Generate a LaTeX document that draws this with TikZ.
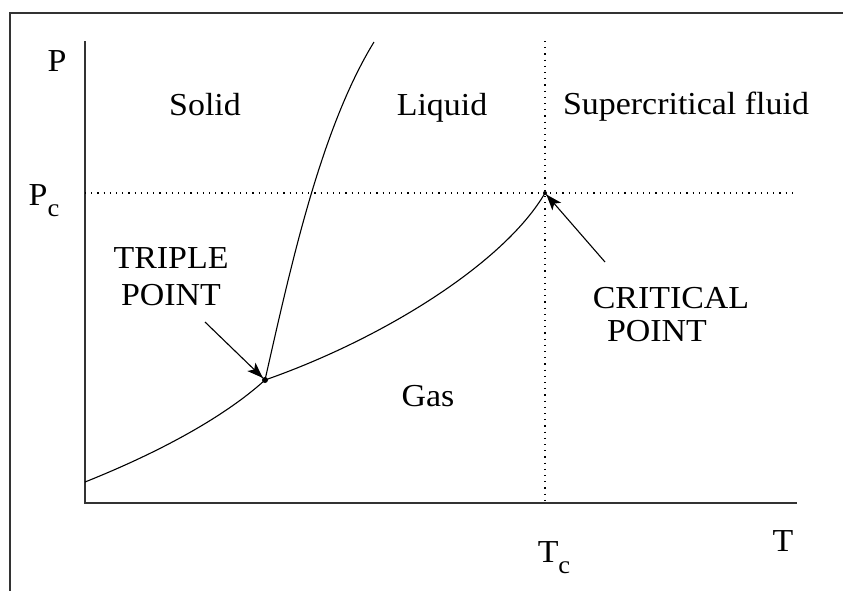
\documentclass[tikz,border=0pt]{standalone}
\usepackage{fontspec}
\setmainfont{Liberation Serif}[FakeStretch=1.06]
\usetikzlibrary{arrows.meta,calc}
\begin{document}
\begin{tikzpicture}[x=1pt,y=-1pt,
  lbl/.style={font=\fontsize{32}{37}\selectfont, inner sep=0pt, anchor=base},
  curve/.style={line width=1.1pt},
  guide/.style={line width=1.2pt, dash pattern=on 1.2pt off 5pt},
  axis/.style={line width=1.4pt, draw=black!80},
  pointer/.style={line width=1.1pt},
  ptdot/.style={circle, fill=black, inner sep=0pt, minimum size=6pt}]
\useasboundingbox (0,0) rectangle (843,590);
\fill[white] (0,0) rectangle (843,590);
% frame
\draw[line width=1.6pt, draw=black!80] (10,600) -- (10,13) -- (850,13);
% axes
\coordinate (origin) at (85,503);
\coordinate (ytop) at (85,41);
\coordinate (xend) at (797,503);
\draw[axis] (ytop) -- (origin) -- (xend);
% key points
\node[ptdot] (tp) at (265,380) {};
\node[ptdot, minimum size=4pt] (cp) at (545,193) {};
\coordinate (pcl) at (85,193);
\coordinate (pcr) at (797,193);
\coordinate (tct) at (545,41);
\coordinate (tcb) at (545,503);
\coordinate (sg0) at (85,482);
\coordinate (sltop) at (374,42);
% guides
\draw[guide] (pcl) -- (pcr);
\draw[guide] (tct) -- (tcb);
% phase boundaries
\draw[curve] (sg0) .. controls (170,448) and (230,412) .. (tp.center);
\draw[curve] (tp.center) .. controls (385,338) and (505,262) .. (cp.center);
\draw[curve] (tp.center) .. controls (290,270) and (320,130) .. (sltop);
% labels
\node[lbl] (P) at (57,71) {P};
\node[lbl] (Pc) at (44,205) {P\raisebox{-0.35em}{\fontsize{25}{25}\selectfont c}};
\node[lbl] (T) at (783,551) {T};
\node[lbl] (Tc) at (554,562) {T\raisebox{-0.35em}{\fontsize{25}{25}\selectfont c}};
\node[lbl] (solid) at (205,115) {Solid};
\node[lbl] (liquid) at (442,115) {Liquid};
\node[lbl] (scf) at (686,114) {Supercritical fluid};
\node[lbl] (gas) at (428,406) {Gas};
\node[lbl] (tpl1) at (171,268) {TRIPLE};
\node[lbl] (tpl2) at (171,305) {POINT};
\node[lbl] (cpl1) at (671,308) {CRITICAL};
\node[lbl] (cpl2) at (657,341) {POINT};
% pointers
\coordinate (tpa) at (205,322);
\coordinate (cpa) at (605,262);
\coordinate (tph) at ($(tp.center)!3pt!(tpa)$);
\coordinate (cph) at ($(cp.center)!2pt!(cpa)$);
\draw[pointer] (tpa) -- (tph);
\draw[pointer] (cpa) -- (cph);
\fill (tph) -- ($(tph)!17pt!20:(tpa)$) -- ($(tph)!12pt!0:(tpa)$) -- ($(tph)!17pt!-20:(tpa)$) -- cycle;
\fill (cph) -- ($(cph)!17pt!20:(cpa)$) -- ($(cph)!12pt!0:(cpa)$) -- ($(cph)!17pt!-20:(cpa)$) -- cycle;
\end{tikzpicture}
\end{document}
